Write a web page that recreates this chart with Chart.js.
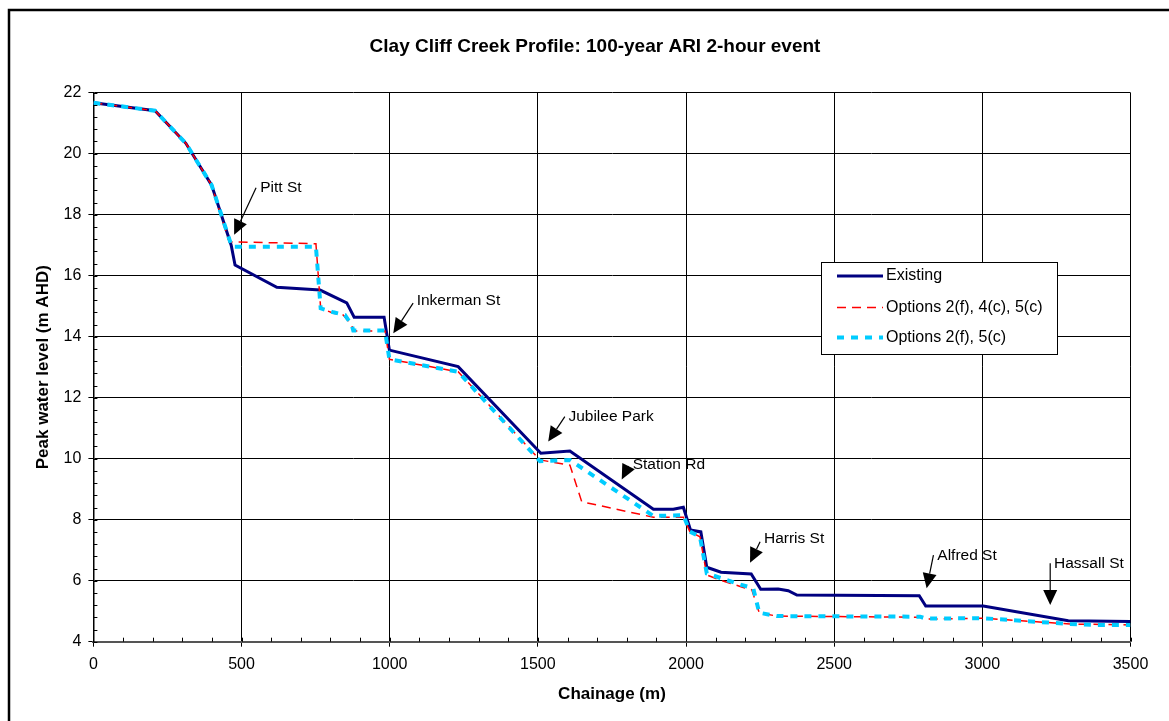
<!DOCTYPE html>
<html>
<head>
<meta charset="utf-8">
<script src="https://cdn.jsdelivr.net/npm/chart.js@4"></script>
<style>
  body { margin: 0; background: #fff; }
  #wrap { width: 1169px; height: 721px; }
</style>
</head>
<body>
<div id="wrap"><canvas id="profileChart" width="1169" height="721"></canvas></div>
<script>
// chainage (m) / peak water level (m AHD)
var existingX = [0, 208, 312, 399, 465, 478, 619, 765, 855, 880, 981, 999, 1231, 1510, 1608, 1890, 1957, 1991, 2015, 2050, 2070, 2118, 2220, 2252, 2311, 2345, 2374, 2787, 2809, 3003, 3290, 3500];
var existingY = [21.67, 21.41, 20.34, 18.97, 17.0, 16.35, 15.62, 15.53, 15.11, 14.64, 14.64, 13.56, 13.02, 10.18, 10.25, 8.34, 8.34, 8.41, 7.66, 7.60, 6.44, 6.28, 6.22, 5.72, 5.73, 5.67, 5.53, 5.51, 5.17, 5.17, 4.69, 4.66];

var opt245X = [0, 208, 312, 399, 458, 751, 767, 810, 843, 872, 877, 984, 999, 1231, 1507, 1608, 1648, 1890, 1991, 2013, 2047, 2070, 2115, 2193, 2222, 2247, 2306, 2790, 2812, 3003, 3296, 3500];
var opt245Y = [21.67, 21.41, 20.34, 18.97, 17.11, 17.05, 14.93, 14.77, 14.71, 14.38, 14.19, 14.19, 13.26, 12.85, 9.96, 9.79, 8.59, 8.08, 8.08, 7.61, 7.44, 6.19, 6.02, 5.78, 5.70, 4.95, 4.84, 4.80, 4.74, 4.77, 4.58, 4.55];

var opt25X = [0, 208, 312, 399, 467, 751, 767, 810, 849, 872, 877, 984, 999, 1231, 1507, 1608, 1890, 1991, 2013, 2047, 2070, 2171, 2227, 2247, 2306, 2790, 2808, 3003, 3296, 3375, 3500];
var opt25Y = [21.67, 21.41, 20.34, 18.97, 16.95, 16.95, 14.93, 14.80, 14.71, 14.38, 14.20, 14.20, 13.26, 12.85, 9.92, 9.96, 8.12, 8.15, 7.61, 7.44, 6.24, 5.91, 5.75, 4.95, 4.84, 4.82, 4.76, 4.77, 4.58, 4.55, 4.55];

var seriesNames = ["Existing", "Options 2(f), 4(c), 5(c)", "Options 2(f), 5(c)"];
var chartTitle = "Clay Cliff Creek Profile: 100-year ARI 2-hour event";

// street annotations: label, text position, arrow tail and tip (data units)
var noteLabels = ["Pitt St", "Inkerman St", "Jubilee Park", "Station Rd", "Harris St", "Alfred St", "Hassall St"];
var noteTextX = [563, 1091, 1603, 1820, 2263, 2848, 3242];
var noteTextY = [18.88, 15.17, 11.38, 9.79, 7.37, 6.82, 6.57];
var noteTailX = [549, 1079, 1591, 1805, 2250, 2835, 3229];
var noteTailY = [18.88, 15.10, 11.38, 9.74, 7.28, 6.84, 6.57];
var noteTipX = [475, 1012, 1535, 1783, 2216, 2812, 3229];
var noteTipY = [17.34, 14.11, 10.56, 9.32, 6.59, 5.75, 5.20];

function pts(xs, ys) {
  return xs.map(function(x, i) { return {x: x, y: ys[i]}; });
}

var FONT = "'Liberation Sans', Arial, sans-serif";

var overlay = {
  id: 'overlay',
  beforeDraw: function(chart) {
    var ctx = chart.ctx;
    ctx.save();
    ctx.fillStyle = '#fff';
    ctx.fillRect(0, 0, chart.width, chart.height);
    ctx.strokeStyle = '#000';
    ctx.lineWidth = 2.5;
    ctx.beginPath();
    ctx.moveTo(9, chart.height);
    ctx.lineTo(9, 10);
    ctx.lineTo(chart.width, 10);
    ctx.stroke();
    // title
    ctx.fillStyle = '#000';
    ctx.font = 'bold 19px ' + FONT;
    ctx.textAlign = 'center';
    ctx.textBaseline = 'middle';
    ctx.fillText(chartTitle, 595, 47);
    ctx.restore();
  },
  afterDraw: function(chart) {
    var ctx = chart.ctx;
    var xs = chart.scales.x, ys = chart.scales.y;
    var area = chart.chartArea;
    ctx.save();
    // minor ticks
    ctx.strokeStyle = '#000';
    ctx.lineWidth = 1;
    ctx.beginPath();
    for (var v = 0; v <= 3500; v += 100) {
      var px = Math.round(xs.getPixelForValue(v)) + 0.5;
      ctx.moveTo(px, area.bottom);
      ctx.lineTo(px, area.bottom - 4);
    }
    for (var k = 0; k <= 45; k++) {
      var py = Math.round(ys.getPixelForValue(4 + k * 0.4)) + 0.5;
      ctx.moveTo(area.left, py);
      ctx.lineTo(area.left + 4, py);
    }
    ctx.stroke();

    // annotations
    ctx.font = '15.5px ' + FONT;
    ctx.textBaseline = 'middle';
    ctx.textAlign = 'left';
    ctx.lineWidth = 1.2;
    for (var i = 0; i < noteLabels.length; i++) {
      var tx = xs.getPixelForValue(noteTailX[i]), ty = ys.getPixelForValue(noteTailY[i]);
      var hx = xs.getPixelForValue(noteTipX[i]), hy = ys.getPixelForValue(noteTipY[i]);
      var ang = Math.atan2(hy - ty, hx - tx);
      var len = 15, half = 7;
      var bx = hx - len * Math.cos(ang), by = hy - len * Math.sin(ang);
      ctx.beginPath();
      ctx.moveTo(tx, ty);
      ctx.lineTo(bx, by);
      ctx.stroke();
      ctx.beginPath();
      ctx.moveTo(hx, hy);
      ctx.lineTo(bx + half * Math.sin(ang), by - half * Math.cos(ang));
      ctx.lineTo(bx - half * Math.sin(ang), by + half * Math.cos(ang));
      ctx.closePath();
      ctx.fillStyle = '#000';
      ctx.fill();
      ctx.fillText(noteLabels[i], xs.getPixelForValue(noteTextX[i]), ys.getPixelForValue(noteTextY[i]));
    }

    // legend box
    var lx = 821, ly = 262, lw = 236, lh = 92;
    ctx.fillStyle = '#fff';
    ctx.fillRect(lx, ly, lw, lh);
    ctx.strokeStyle = '#000';
    ctx.lineWidth = 1;
    ctx.strokeRect(lx + 0.5, ly + 0.5, lw, lh);
    var rowY = [276, 307.5, 337.5];
    ctx.font = '16px ' + FONT;
    chart.data.datasets.forEach(function(ds, r) {
      ctx.save();
      ctx.strokeStyle = ds.borderColor;
      ctx.lineWidth = ds.borderWidth;
      ctx.setLineDash(ds.borderDash || []);
      ctx.beginPath();
      ctx.moveTo(837, rowY[r]);
      ctx.lineTo(883, rowY[r]);
      ctx.stroke();
      ctx.restore();
      ctx.fillStyle = '#000';
      ctx.fillText(ds.label, 886, rowY[r]);
    });
    ctx.restore();
  }
};

var ctx = document.getElementById('profileChart').getContext('2d');
var profileChart = new Chart(ctx, {
  type: 'line',
  data: {
    datasets: [{
      label: seriesNames[0],
      data: pts(existingX, existingY),
      borderColor: '#000080',
      borderWidth: 3,
      order: 3
    }, {
      label: seriesNames[1],
      data: pts(opt245X, opt245Y),
      borderColor: '#ff0000',
      borderWidth: 1.5,
      borderDash: [9, 6],
      order: 2
    }, {
      label: seriesNames[2],
      data: pts(opt25X, opt25Y),
      borderColor: '#00ccff',
      borderWidth: 4,
      borderDash: [7, 7],
      order: 1
    }]
  },
  options: {
    responsive: false,
    animation: false,
    devicePixelRatio: 1,
    layout: { padding: { left: 0, right: 38.5, top: 92.7, bottom: 0 } },
    elements: {
      point: { radius: 0 },
      line: { tension: 0, fill: false }
    },
    plugins: {
      legend: { display: false },
      tooltip: { enabled: false },
      title: { display: false }
    },
    scales: {
      x: {
        type: 'linear',
        min: 0,
        max: 3500,
        ticks: {
          stepSize: 500, color: '#000', padding: 8, font: { family: FONT, size: 16 },
          callback: function(value) { return String(value); }
        },
        grid: { color: '#000', lineWidth: 1, tickLength: 5 },
        border: { color: '#555', width: 2 },
        title: {
          display: true,
          text: 'Chainage (m)',
          color: '#000',
          font: { family: FONT, size: 17, weight: 'bold', lineHeight: 1.2 },
          padding: { top: 4, bottom: 16 }
        },
        afterFit: function(scale) { scale.height = 79.3; }
      },
      y: {
        min: 4,
        max: 22,
        ticks: { stepSize: 2, color: '#000', padding: 7, font: { family: FONT, size: 16 } },
        grid: { color: '#000', lineWidth: 1, tickLength: 5 },
        border: { color: '#000', width: 1.5 },
        title: {
          display: true,
          text: 'Peak water level (m AHD)',
          color: '#000',
          font: { family: FONT, size: 17, weight: 'bold', lineHeight: 1.2 },
          padding: { top: 33, bottom: 4 }
        },
        afterFit: function(scale) { scale.width = 93.4; }
      }
    }
  },
  plugins: [overlay]
});
</script>
</body>
</html>
